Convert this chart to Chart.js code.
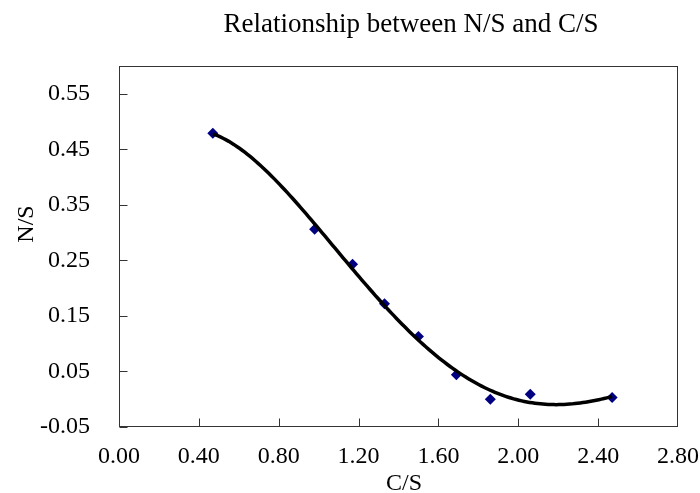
<!DOCTYPE html>
<html>
<head>
<meta charset="utf-8">
<script src="https://cdn.jsdelivr.net/npm/chart.js@4.4.0/dist/chart.umd.min.js"></script>
<style>
  html, body { margin: 0; padding: 0; background: #fff; }
  #wrap { width: 700px; height: 493px; }
</style>
</head>
<body>
<div id="wrap"><canvas id="c"></canvas></div>
<script>
// Measured samples: C/S ratio against N/S ratio
const csValues = [0.47, 0.98, 1.17, 1.33, 1.50, 1.69, 1.86, 2.06, 2.47];
const nsValues = [0.479, 0.306, 0.243, 0.172, 0.113, 0.044, 0.000, 0.009, 0.003];

const xTickValues = [0.00, 0.40, 0.80, 1.20, 1.60, 2.00, 2.40, 2.80];
const yTickValues = [-0.05, 0.05, 0.15, 0.25, 0.35, 0.45, 0.55];

const titleText = 'Relationship between N/S and C/S';
const xTitle = 'C/S';
const yTitle = 'N/S';

const serif = '"Liberation Serif", "Times New Roman", serif';

// Least-squares polynomial trendline through the samples
function polyFit(xs, ys, order) {
  const n = order + 1;
  const A = [];
  for (let r = 0; r < n; r++) {
    const row = [];
    for (let c = 0; c < n; c++) {
      let s = 0;
      for (let i = 0; i < xs.length; i++) s += Math.pow(xs[i], r + c);
      row.push(s);
    }
    let b = 0;
    for (let i = 0; i < xs.length; i++) b += ys[i] * Math.pow(xs[i], r);
    row.push(b);
    A.push(row);
  }
  for (let p = 0; p < n; p++) {
    let best = p;
    for (let r = p + 1; r < n; r++) if (Math.abs(A[r][p]) > Math.abs(A[best][p])) best = r;
    [A[p], A[best]] = [A[best], A[p]];
    for (let r = 0; r < n; r++) {
      if (r === p) continue;
      const f = A[r][p] / A[p][p];
      for (let c = p; c <= n; c++) A[r][c] -= f * A[p][c];
    }
  }
  return A.map((row, i) => row[n] / row[i]);
}

const coef = polyFit(csValues, nsValues, 4);
const trendPoints = [];
const xMin = Math.min(...csValues), xMax = Math.max(...csValues);
for (let k = 0; k <= 150; k++) {
  const x = xMin + (xMax - xMin) * k / 150;
  let y = 0;
  for (let j = coef.length - 1; j >= 0; j--) y = y * x + coef[j];
  trendPoints.push({ x, y });
}

// Frame, inward tick marks and text placed around the plot area
const framePlugin = {
  id: 'frame',
  afterDraw(chart) {
    const { ctx, chartArea: a, scales } = chart;
    ctx.save();
    ctx.strokeStyle = '#333';
    ctx.lineWidth = 1;
    const L = Math.round(a.left) + 0.5, R = Math.round(a.right) - 0.5;
    const T = Math.round(a.top) + 0.5, B = Math.round(a.bottom) - 0.5;
    ctx.strokeRect(L, T, R - L, B - T);
    ctx.beginPath();
    scales.y.ticks.forEach(t => {
      const py = Math.round(scales.y.getPixelForValue(t.value)) + 0.5;
      ctx.moveTo(L, py); ctx.lineTo(L + 8, py);
    });
    scales.x.ticks.forEach(t => {
      if (t.value <= scales.x.min || t.value >= scales.x.max) return;
      const px = Math.round(scales.x.getPixelForValue(t.value)) + 0.5;
      ctx.moveTo(px, B); ctx.lineTo(px, B - 8);
    });
    ctx.stroke();

    ctx.fillStyle = '#000';
    ctx.textAlign = 'center';
    ctx.textBaseline = 'alphabetic';
    ctx.font = '27px ' + serif;
    ctx.fillText(titleText, 411, 32);
    ctx.font = '24px ' + serif;
    ctx.fillText(xTitle, 404, 490);
    ctx.translate(33, 224);
    ctx.rotate(-Math.PI / 2);
    ctx.fillText(yTitle, 0, 0);
    ctx.restore();
  }
};

new Chart(document.getElementById('c'), {
  type: 'scatter',
  data: {
    datasets: [
      {
        label: 'Trend',
        type: 'line',
        data: trendPoints,
        borderColor: '#000',
        borderWidth: 3.5,
        pointRadius: 0,
        fill: false,
        tension: 0,
        order: 0
      },
      {
        label: 'N/S',
        data: csValues.map((x, i) => ({ x, y: nsValues[i] })),
        pointStyle: 'rectRot',
        pointRadius: 5.5,
        backgroundColor: '#000080',
        borderColor: '#000080',
        borderWidth: 0,
        order: 1
      }
    ]
  },
  options: {
    responsive: true,
    maintainAspectRatio: false,
    animation: false,
    layout: { padding: { left: 0, right: 22, top: 66, bottom: 0 } },
    plugins: { legend: { display: false }, tooltip: { enabled: false }, title: { display: false } },
    scales: {
      x: {
        type: 'linear',
        min: 0, max: 2.8,
        border: { display: false },
        grid: { display: false, drawTicks: false },
        afterBuildTicks(s) { s.ticks = xTickValues.map(v => ({ value: v })); },
        afterFit(s) { s.height = 66; s.paddingLeft = 0; s.paddingRight = 0; },
        ticks: {
          autoSkip: false, maxRotation: 0, padding: 15,
          color: '#000',
          font: { family: serif, size: 24 },
          callback: v => v.toFixed(2)
        }
      },
      y: {
        type: 'linear',
        min: -0.05, max: 0.60,
        border: { display: false },
        grid: { display: false, drawTicks: false },
        afterBuildTicks(s) { s.ticks = yTickValues.map(v => ({ value: v })); },
        afterFit(s) { s.width = 119; s.paddingTop = 0; s.paddingBottom = 0; },
        ticks: {
          autoSkip: false, padding: 29,
          color: '#000',
          font: { family: serif, size: 24 },
          callback: v => v.toFixed(2)
        }
      }
    }
  },
  plugins: [framePlugin]
});
</script>
</body>
</html>
